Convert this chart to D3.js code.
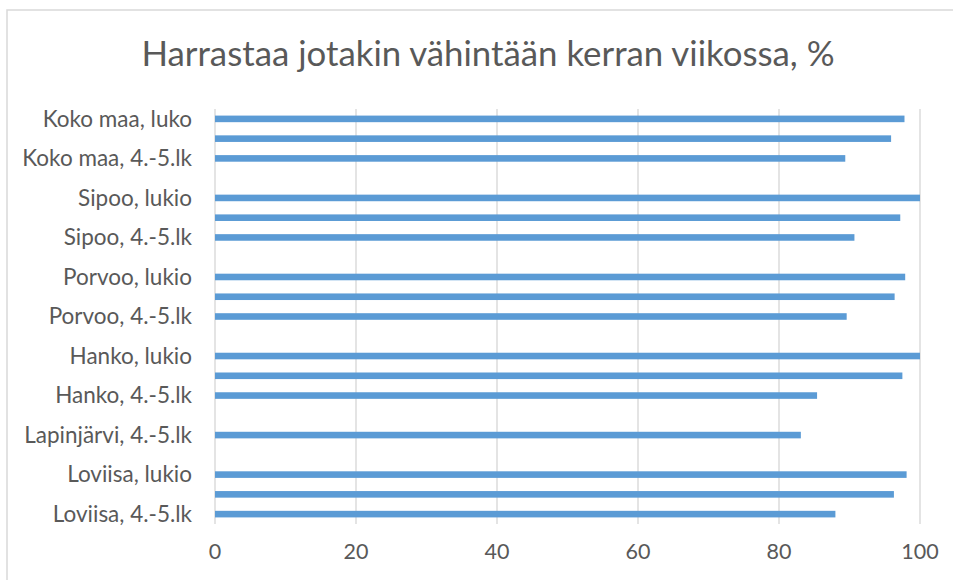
<!DOCTYPE html>
<html>
<head>
<meta charset="utf-8">
<script src="https://cdn.jsdelivr.net/npm/d3@7"></script>
<style>
  body { margin: 0; background: #fff; }
  svg text { font-family: Lato, "Liberation Sans", sans-serif; fill: #595959; }
</style>
</head>
<body>
<div id="chart"></div>
<script>
// categories, top to bottom as shown (blank ones are empty slots in the sheet)
const categories = [
  "Koko maa, luko", "Koko maa, 8.-9.lk", "Koko maa, 4.-5.lk", "",
  "Sipoo, lukio", "Sipoo, 8.-9.lk", "Sipoo, 4.-5.lk", "",
  "Porvoo, lukio", "Porvoo, 8.-9.lk", "Porvoo, 4.-5.lk", "",
  "Hanko, lukio", "Hanko, 8.-9.lk", "Hanko, 4.-5.lk", "",
  "Lapinjärvi, 4.-5.lk", "",
  "Loviisa, lukio", "Loviisa, 8.-9.lk", "Loviisa, 4.-5.lk"
];
const values = [
  97.8, 95.9, 89.4, null,
  100, 97.2, 90.7, null,
  97.9, 96.4, 89.6, null,
  100, 97.5, 85.4, null,
  83.1, null,
  98.1, 96.3, 88.0
];
const xTicks = [0, 20, 40, 60, 80, 100];
const title = "Harrastaa jotakin vähintään kerran viikossa, %";

const width = 953, height = 580;
const margin = {top: 109, right: 33, bottom: 56, left: 215};

let svg = d3.select('#chart')
  .append('svg')
  .attr('width', width)
  .attr('height', height);

// chart frame
svg.append('rect')
  .attr('x', 7).attr('y', 10)
  .attr('width', 980).attr('height', 600)
  .attr('fill', 'none')
  .attr('stroke', '#d9d9d9')
  .attr('stroke-width', 1.5);

let x = d3.scaleLinear()
  .domain([0, 100])
  .range([margin.left, width - margin.right]);

let y = d3.scaleBand()
  .domain(d3.range(categories.length))
  .range([margin.top, height - margin.bottom])
  .paddingInner(2 / 3)
  .paddingOuter(1 / 3);

// gridlines
svg.append('g')
  .selectAll('line')
  .data(xTicks)
  .enter()
  .append('line')
  .attr('x1', d => x(d)).attr('x2', d => x(d))
  .attr('y1', margin.top).attr('y2', height - margin.bottom)
  .attr('stroke', '#d9d9d9')
  .attr('stroke-width', 1.4);

// x tick labels
svg.append('g')
  .selectAll('text')
  .data(xTicks)
  .enter()
  .append('text')
  .attr('x', d => x(d))
  .attr('y', 559)
  .attr('text-anchor', 'middle')
  .style('font-size', '21.5px')
  .text(d => d);

// bars
svg.append('g')
  .selectAll('rect')
  .data(values.map((v, i) => ({i: i, v: v})).filter(d => d.v !== null))
  .enter()
  .append('rect')
  .attr('x', x(0))
  .attr('y', d => y(d.i))
  .attr('width', d => x(d.v) - x(0))
  .attr('height', y.bandwidth())
  .attr('fill', '#5b9bd5');

// category labels: Excel only had room for every other one
svg.append('g')
  .selectAll('text')
  .data(categories.map((c, i) => ({i: i, c: c})).filter(d => d.i % 2 === 0))
  .enter()
  .append('text')
  .attr('x', margin.left - 23)
  .attr('y', d => y(d.i) + y.bandwidth() / 2)
  .attr('dy', '0.35em')
  .attr('text-anchor', 'end')
  .style('font-size', '22.5px')
  .text(d => d.c);

svg.append('text')
  .attr('x', 488)
  .attr('y', 66)
  .attr('text-anchor', 'middle')
  .style('font-size', '34.8px')
  .text(title);
</script>
</body>
</html>
